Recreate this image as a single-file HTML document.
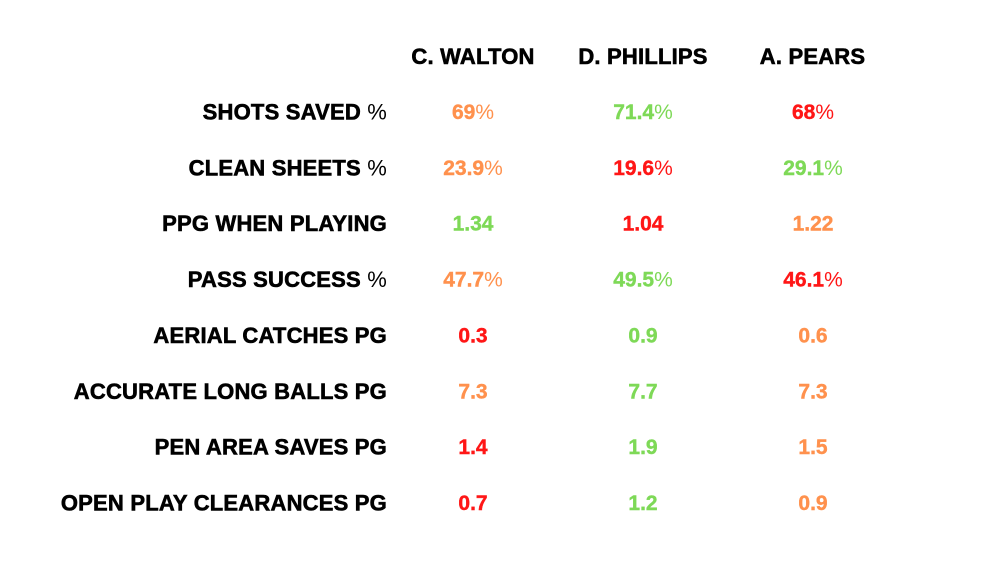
<!DOCTYPE html>
<html>
<head>
<meta charset="utf-8">
<style>
html,body{margin:0;padding:0;background:#fff;}
svg{display:block;}
text{font-family:"Liberation Sans",Arial,sans-serif;}
.h{font-size:22px;font-weight:bold;fill:#000;stroke:#000;stroke-width:0.6px;text-anchor:middle;letter-spacing:0.2px;}
.l{font-size:22px;font-weight:bold;fill:#000;stroke:#000;stroke-width:0.6px;text-anchor:end;letter-spacing:0.2px;}
.v{font-size:21px;font-weight:bold;text-anchor:middle;stroke-width:0.4px;}
.t{font-weight:normal;stroke:none;}
.o{fill:#ff914d;stroke:#ff914d;}
.g{fill:#7ed957;stroke:#7ed957;}
.r{fill:#ff1616;stroke:#ff1616;}
</style>
</head>
<body>
<svg width="1000" height="563" viewBox="0 0 1000 563" xmlns="http://www.w3.org/2000/svg">
<rect width="1000" height="563" fill="#fff"/>
<text class="h" x="473" y="64">C. WALTON</text>
<text class="h" x="643" y="64">D. PHILLIPS</text>
<text class="h" x="812.5" y="64">A. PEARS</text>

<text class="l" x="387" y="119.5">SHOTS SAVED <tspan class="t">%</tspan></text>
<text class="l" x="387" y="175.4">CLEAN SHEETS <tspan class="t">%</tspan></text>
<text class="l" x="387" y="231.2">PPG WHEN PLAYING</text>
<text class="l" x="387" y="287.1">PASS SUCCESS <tspan class="t">%</tspan></text>
<text class="l" x="387" y="342.9">AERIAL CATCHES PG</text>
<text class="l" x="387" y="398.8">ACCURATE LONG BALLS PG</text>
<text class="l" x="387" y="454.6">PEN AREA SAVES PG</text>
<text class="l" x="387" y="510.5">OPEN PLAY CLEARANCES PG</text>

<text class="v o" x="473" y="119">69<tspan class="t">%</tspan></text>
<text class="v g" x="643" y="119">71.4<tspan class="t">%</tspan></text>
<text class="v r" x="813" y="119">68<tspan class="t">%</tspan></text>

<text class="v o" x="473" y="174.9">23.9<tspan class="t">%</tspan></text>
<text class="v r" x="643" y="174.9">19.6<tspan class="t">%</tspan></text>
<text class="v g" x="813" y="174.9">29.1<tspan class="t">%</tspan></text>

<text class="v g" x="473" y="230.7">1.34</text>
<text class="v r" x="643" y="230.7">1.04</text>
<text class="v o" x="813" y="230.7">1.22</text>

<text class="v o" x="473" y="286.6">47.7<tspan class="t">%</tspan></text>
<text class="v g" x="643" y="286.6">49.5<tspan class="t">%</tspan></text>
<text class="v r" x="813" y="286.6">46.1<tspan class="t">%</tspan></text>

<text class="v r" x="473" y="342.4">0.3</text>
<text class="v g" x="643" y="342.4">0.9</text>
<text class="v o" x="813" y="342.4">0.6</text>

<text class="v o" x="473" y="398.3">7.3</text>
<text class="v g" x="643" y="398.3">7.7</text>
<text class="v o" x="813" y="398.3">7.3</text>

<text class="v r" x="473" y="454.1">1.4</text>
<text class="v g" x="643" y="454.1">1.9</text>
<text class="v o" x="813" y="454.1">1.5</text>

<text class="v r" x="473" y="510">0.7</text>
<text class="v g" x="643" y="510">1.2</text>
<text class="v o" x="813" y="510">0.9</text>
</svg>
</body>
</html>
